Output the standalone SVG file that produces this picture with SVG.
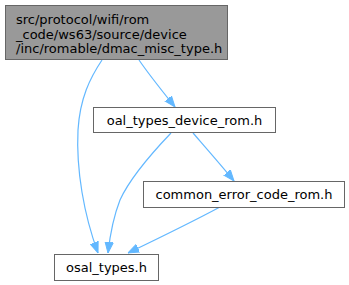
<svg xmlns="http://www.w3.org/2000/svg" width="349" height="285" viewBox="0 0 349 285">
<style>
.box{fill:#ffffff;stroke:#666666;stroke-width:1}
.root{fill:#999999;stroke:#666666;stroke-width:1}
.lbl{font-family:"DejaVu Sans",sans-serif;font-size:13px;fill:#000000}
.edge{fill:none;stroke:#63b8ff;stroke-width:1.2}
</style>
<defs>
<marker id="ah" viewBox="0 0 11 10" refX="11" refY="5" markerWidth="11" markerHeight="10" markerUnits="userSpaceOnUse" orient="auto">
<path d="M0,0.8 L11,5 L0,9.2 Z" fill="#63b8ff" stroke="#63b8ff" stroke-width="1"/>
</marker>
</defs>
<rect width="349" height="285" fill="#ffffff"/>
<g id="edges">
<path class="edge" marker-end="url(#ah)" d="M102,60 C90,78 80,98 78,130 C76,170 84,215 98,253"/>
<path class="edge" marker-end="url(#ah)" d="M139,60 C150,76 163,92 175,107"/>
<path class="edge" marker-end="url(#ah)" d="M171,133 C150,155 130,178 120,200 C113,218 110,235 108,253"/>
<path class="edge" marker-end="url(#ah)" d="M193,133 C206,148 221,165 234,181"/>
<path class="edge" marker-end="url(#ah)" d="M220,207 C192,222 155,240 128,253"/>
</g>
<g id="node1">
<rect class="root" x="5.5" y="5.5" width="222" height="54"/>
<text class="lbl" x="16" y="24">src/protocol/wifi/rom</text>
<text class="lbl" x="16" y="39">_code/ws63/source/device</text>
<text class="lbl" x="16" y="53">/inc/romable/dmac_misc_type.h</text>
</g>
<g id="node2">
<rect class="box" x="93.5" y="107.5" width="182" height="25"/>
<text class="lbl" x="184.5" y="124.5" text-anchor="middle">oal_types_device_rom.h</text>
</g>
<g id="node3">
<rect class="box" x="143.5" y="181.5" width="201" height="26"/>
<text class="lbl" x="244" y="199" text-anchor="middle">common_error_code_rom.h</text>
</g>
<g id="node4">
<rect class="box" x="54.5" y="254.5" width="104" height="26"/>
<text class="lbl" x="106.5" y="272" text-anchor="middle">osal_types.h</text>
</g>
</svg>
